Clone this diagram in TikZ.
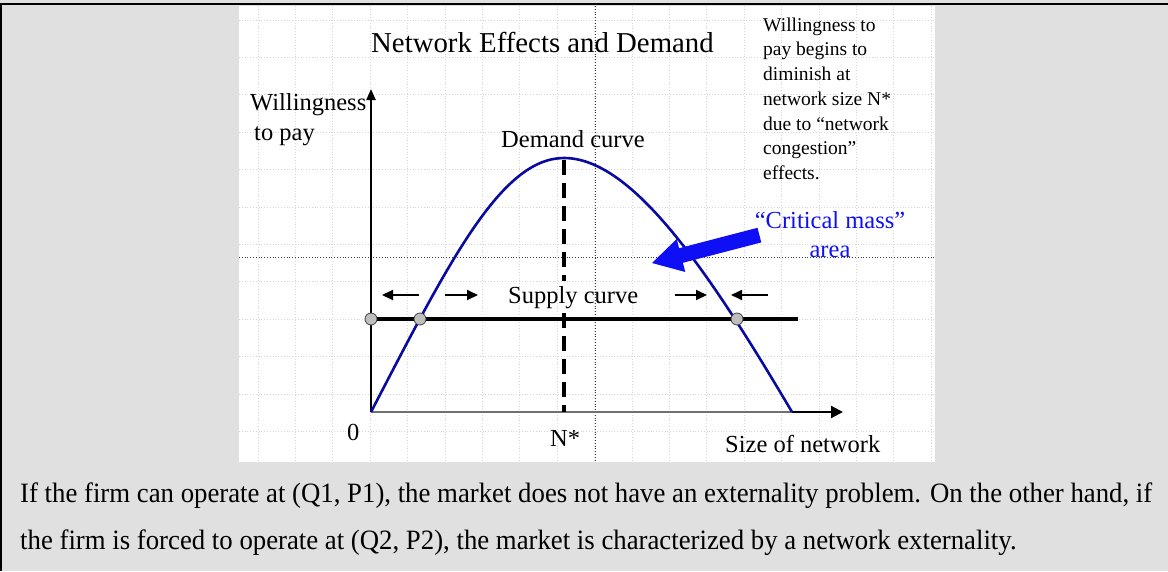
\documentclass[tikz,border=0pt]{standalone}
\usepackage{fontspec}
\setmainfont{Liberation Serif}
\usepackage{graphicx}
\usetikzlibrary{arrows.meta}
\definecolor{bg}{HTML}{E0E0E0}
\definecolor{gridc}{HTML}{D6D6D6}
\definecolor{guidec}{HTML}{404040}
\definecolor{navy}{RGB}{10,10,160}
\definecolor{brightblue}{RGB}{15,15,245}
\definecolor{dotfill}{HTML}{BEBEBE}
\definecolor{axisgray}{HTML}{707070}
\tikzset{
  gridline/.style={gridc, line width=0.8pt, dotted},
  guideline/.style={guidec, line width=0.8pt, dotted},
  axisline/.style={black, line width=2.2pt},
  demand/.style={navy, line width=2.6pt, line join=round},
  supply/.style={black, line width=3.2pt},
  nline/.style={black, line width=3.4pt, dash pattern=on 15pt off 8pt},
  smallarrow/.style={black, line width=1.8pt, -{Triangle[length=11pt,width=10pt]}},
  eqdot/.style={circle, fill=dotfill, draw=guidec, line width=0.8pt, minimum size=12pt, inner sep=0pt},
  lbl/.style={anchor=base west, inner sep=0pt, font=\fontsize{24.5}{30}\selectfont},
}
\begin{document}
\begin{tikzpicture}[x=1pt,y=-1pt]
\useasboundingbox (0,0) rectangle (1168,571);
\fill[bg] (0,0) rectangle (1168,571);
\draw[line width=2.5pt] (0,4) -- (1168,4);
\draw[line width=2.5pt] (1.2,3) -- (1.2,571);
\fill[white] (239,6) rectangle (935,462);
% grid
\foreach \i in {0,...,18} \draw[gridline] ({258+37.4*\i},6) -- ({258+37.4*\i},462);
\foreach \j in {0,...,11} \draw[gridline] (239,{20+37.4*\j}) -- (935,{20+37.4*\j});
\draw[guideline] (239,257) -- (935,257);
\draw[guideline] (595,6) -- (595,462);

% axes
\coordinate (O) at (371,412);
\coordinate (ytop) at (371,89);
\coordinate (dend) at (792,412);
\coordinate (xend) at (843,412);
\draw[axisline, -{Triangle[length=11pt,width=9pt]}] (O) -- (ytop);
\draw[axisgray, line width=2.4pt] (O) -- (dend);
\draw[axisline, -{Triangle[length=12pt,width=12pt]}] (dend) -- (xend);

% dashed N* line (interrupted by the supply label)
\coordinate (peak) at (564,160);
\coordinate (ngap1) at (564,281);
\coordinate (ngap2) at (564,313);
\coordinate (nbase) at (564,412);
\draw[nline] (peak) -- (ngap1);
\draw[nline] (ngap2) -- (nbase);

% supply line
\coordinate (s0) at (371,319);
\coordinate (send) at (798,319);
\draw[supply] (s0) -- (send);

% demand curve
\coordinate (dtop) at (564,158);
\draw[demand] (O) .. controls (449,262) and (501,158) .. (dtop)
  .. controls (630,158) and (703.5,262) .. (dend);

% equilibrium dots
\node[eqdot] (e0) at (371,319) {};
\node[eqdot] (e1) at (420,319) {};
\node[eqdot] (e2) at (737,319) {};

% small arrows
\coordinate (a1s) at (419,295); \coordinate (a1e) at (382,295);
\coordinate (a2s) at (445,295); \coordinate (a2e) at (478,295);
\coordinate (a3s) at (675,295); \coordinate (a3e) at (707,295);
\coordinate (a4s) at (768,295); \coordinate (a4e) at (731,295);
\draw[smallarrow] (a1s) -- (a1e);
\draw[smallarrow] (a2s) -- (a2e);
\draw[smallarrow] (a3s) -- (a3e);
\draw[smallarrow] (a4s) -- (a4e);

% big blue arrow
\fill[brightblue] (652,263) -- (685.3,272.0) -- (682.9,262.8) -- (761.3,242.4) -- (757.5,227.8) -- (679.1,248.2) -- (676.7,239.0) -- cycle;

% texts
\node[anchor=base west, inner sep=0pt, font=\fontsize{28.8}{34}\selectfont] (title) at (371,52) {Network Effects and Demand};
\node[lbl] (wtp1) at (250,110) {Willingness};
\node[lbl] (wtp2) at (254,140) {to pay};
\node[lbl] (dlabel) at (501,147) {Demand curve};
\node[lbl] (slabel) at (508,303) {Supply curve};
\node[lbl] (zero) at (347,440) {0};
\node[lbl] (nstar) at (550,446) {N*};
\node[lbl] (xlabel) at (725,452) {Size of network};
\node[anchor=base, inner sep=0pt, font=\fontsize{24.5}{30}\selectfont, text=brightblue] (cm1) at (830,228) {“Critical mass”};
\node[anchor=base, inner sep=0pt, font=\fontsize{24.5}{30}\selectfont, text=brightblue] (cm2) at (830,257) {area};
\node[anchor=north west, inner sep=0pt, align=left, font=\fontsize{19.5}{24.7}\selectfont] (note) at (763,17.5) {Willingness to\\pay begins to\\diminish at\\network size N*\\due to “network\\congestion”\\effects.};

% caption
\node[anchor=base west, inner sep=0pt] (caption) at (20,502) {\fontsize{28}{47}\selectfont\resizebox{1132pt}{\height}{\begin{tabular}[t]{@{}l@{}}If the firm can operate at (Q1, P1), the market does not have an externality problem. On the other hand, if\\the firm is forced to operate at (Q2, P2), the market is characterized by a network externality.\end{tabular}}};
\end{tikzpicture}
\end{document}
